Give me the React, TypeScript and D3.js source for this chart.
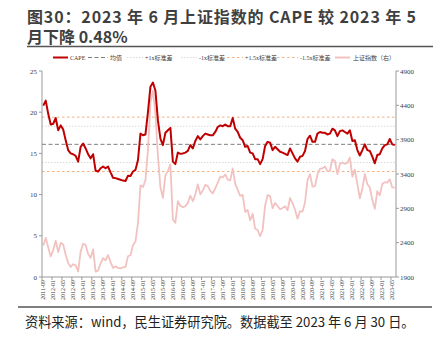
import React from "react";
import * as d3 from "d3";

const startMonth = new Date(2011, 8, 1);
const months: string[] = d3.timeMonths(startMonth, new Date(2023, 6, 1)).map(d3.timeFormat("%Y-%m"));

const capeValues: number[] = [
  20.8, 21.4, 19.8, 18.5, 18.6, 19.3, 17.8, 18.4, 17.9, 16.6,
  15.4, 15.0, 14.9, 14.7, 14.0, 15.8, 16.2, 15.6, 14.9, 14.4,
  14.9, 12.9, 12.8, 13.2, 13.4, 13.2, 13.4, 12.7, 12.05, 12.0,
  11.9, 11.8, 11.7, 11.65, 12.3, 12.25, 12.8, 13.0, 14.2, 17.4,
  17.2, 17.3, 20.0, 23.1, 23.6, 22.6, 19.0, 16.8, 16.0, 17.5,
  17.8, 18.1, 14.0, 13.7, 15.1, 14.95, 15.0, 15.1, 15.3, 16.0,
  15.6, 16.5, 17.1, 16.7, 17.1, 17.4, 17.3, 17.2, 17.2, 17.6,
  18.2, 18.4, 18.3, 18.5, 18.3, 18.3, 19.3, 18.0, 17.6, 16.9,
  16.6, 15.8, 15.9, 15.1, 15.0, 14.3, 14.3, 13.7, 14.3, 15.9,
  16.4, 16.3, 15.4, 15.8, 15.5, 15.2, 15.1, 14.95, 14.8, 15.6,
  15.0, 14.4, 14.0, 14.6, 14.7, 15.3, 16.75, 17.15, 16.4, 16.4,
  17.4, 17.6, 17.5, 17.5, 17.3, 17.4, 18.0, 17.8, 17.1, 17.7,
  17.8, 17.6, 17.4, 17.8, 16.5, 16.6, 15.4, 14.75, 15.4, 16.1,
  15.4, 15.3, 14.6, 13.8, 14.8, 14.9, 15.6, 16.0, 16.1, 16.75,
  16.1, 16.0,
];

const sseValues: number[] = [
  2359, 2468, 2333, 2199, 2292, 2428, 2263, 2397, 2373, 2225,
  2103, 2047, 2086, 2069, 1980, 2269, 2385, 2366, 2237, 2178,
  2301, 1979, 1994, 2098, 2175, 2142, 2220, 2116, 2033, 2056,
  2033, 2026, 2039, 2048, 2202, 2217, 2364, 2420, 2683, 3235,
  3210, 3310, 3748, 4442, 4612, 4277, 3664, 3206, 3053, 3383,
  3446, 3539, 2738, 2688, 3004, 2938, 2917, 2930, 2979, 3085,
  3005, 3100, 3250, 3104, 3159, 3242, 3223, 3155, 3117, 3192,
  3273, 3361, 3349, 3393, 3317, 3307, 3481, 3259, 3169, 3082,
  3095, 2847, 2876, 2725, 2821, 2603, 2588, 2494, 2585, 2941,
  3091, 3078, 2899, 2979, 2933, 2886, 2905, 2929, 2872, 3050,
  2977, 2880, 2750, 2860, 2852, 2985, 3310, 3396, 3218, 3225,
  3392, 3473, 3483, 3509, 3442, 3447, 3615, 3591, 3397, 3544,
  3568, 3547, 3564, 3640, 3361, 3462, 3253, 3047, 3186, 3399,
  3253, 3202, 3024, 2893, 3151, 3089, 3256, 3280, 3273, 3323,
  3205, 3202,
];

const bandLevels: number[] = [16.1, 18.3, 13.9, 19.4, 12.8];
const leftTicks: number[] = [0, 5, 10, 15, 20, 25];
const rightTicks: number[] = [1900, 2400, 2900, 3400, 3900, 4400, 4900];
const legendLabels: string[] = ["CAPE", "均值", "+1x标准差", "-1x标准差", "+1.5x标准差", "-1.5x标准差", "上证指数（右）"];

const titleLine1 = "图30：2023 年 6 月上证指数的 CAPE 较 2023 年 5";
const titleLine2 = "月下降 0.48%";
const footerText = "资料来源：wind，民生证券研究院。数据截至 2023 年 6 月 30 日。";

const RED = "#c00000";
const PINK = "#f2c2c0";
const serif = "'Liberation Serif', 'Times New Roman', serif";
const cjk = "'Noto Sans CJK SC', sans-serif";

const styles = [
  { stroke: RED, width: 2, dash: "" },
  { stroke: "#7f7f7f", width: 1, dash: "4,2.5" },
  { stroke: "#d9d9d9", width: 1, dash: "1.5,1.5" },
  { stroke: "#d9d9d9", width: 1, dash: "1.5,1.5" },
  { stroke: "#f4b183", width: 1, dash: "2.5,2.5" },
  { stroke: "#f4b183", width: 1, dash: "2.5,2.5" },
  { stroke: PINK, width: 2, dash: "" },
];
const legendPos = [
  [53, 68, 70],
  [88, 108, 110],
  [127, 143, 145],
  [181, 197, 199],
  [222, 243, 245],
  [277, 298, 300],
  [335, 350, 353],
];

export default function App() {
  const left = 42, right = 396, top = 71, bottom = 277;
  const x = d3.scaleBand<string>().domain(months).range([left, right]);
  const bw = x.bandwidth();
  const cx = (m: string) => (x(m) as number) + bw / 2;
  const yL = d3.scaleLinear().domain([0, 25]).range([bottom, top]);
  const yR = d3.scaleLinear().domain([1900, 4900]).range([bottom, top]);

  const capeLine = d3.line<number>().x((_, i) => cx(months[i])).y((d) => yL(d));
  const sseLine = d3.line<number>().x((_, i) => cx(months[i])).y((d) => yR(d));

  const labelIdx = months.map((_, i) => i).filter((i) => i % 4 === 0);

  return (
    <svg width={438} height={345} style={{ position: "absolute", left: 0, top: 0, background: "#fff" }}>
      <rect width={438} height={345} fill="#fff" />
      <text fontFamily={cjk} fontWeight="bold" fontSize={16} fill="#3f3f3f">
        <tspan x={27} y={23} textLength={389} lengthAdjust="spacing">{titleLine1}</tspan>
        <tspan x={27} y={42.5}>{titleLine2}</tspan>
      </text>
      <line x1={27} x2={433} y1={46.5} y2={46.5} stroke="#555" strokeWidth={1.5} />

      {legendLabels.map((lab, i) => (
        <g key={lab}>
          <line x1={legendPos[i][0]} x2={legendPos[i][1]} y1={57.5} y2={57.5} stroke={styles[i].stroke} strokeWidth={styles[i].width} strokeDasharray={styles[i].dash} />
          <text x={legendPos[i][2]} y={59.5} fontFamily={`${serif}, ${cjk}`} fontSize={6} fill="#404040">{lab}</text>
        </g>
      ))}

      {bandLevels.map((v, i) => (
        <line key={i} x1={left} x2={right} y1={yL(v)} y2={yL(v)} stroke={styles[i + 1].stroke} strokeWidth={1} strokeDasharray={styles[i + 1].dash} />
      ))}

      <path d={sseLine(sseValues) as string} fill="none" stroke={PINK} strokeWidth={1.8} strokeLinejoin="round" />
      <path d={capeLine(capeValues) as string} fill="none" stroke={RED} strokeWidth={2} strokeLinejoin="round" />

      <line x1={left} x2={left} y1={top} y2={bottom} stroke="#999" />
      <line x1={right} x2={right} y1={top} y2={bottom} stroke="#999" />
      <line x1={left} x2={right} y1={bottom} y2={bottom} stroke="#999" />
      {leftTicks.map((t) => (
        <g key={t}>
          <line x1={left - 3} x2={left} y1={yL(t)} y2={yL(t)} stroke="#999" />
          <text x={37} y={yL(t) + 2.5} textAnchor="end" fontFamily={serif} fontSize={7} fill="#404040">{t}</text>
        </g>
      ))}
      {rightTicks.map((t) => (
        <g key={t}>
          <line x1={right} x2={right + 3} y1={yR(t)} y2={yR(t)} stroke="#999" />
          <text x={400} y={yR(t) + 2.5} fontFamily={serif} fontSize={7} fill="#404040">{t}</text>
        </g>
      ))}
      {labelIdx.map((i) => (
        <g key={i}>
          <line x1={x(months[i]) as number} x2={x(months[i]) as number} y1={bottom} y2={bottom + 3} stroke="#999" />
          <text transform={`translate(${cx(months[i]) + 2},${280}) rotate(-90)`} textAnchor="end" fontFamily={serif} fontSize={6} fill="#404040">{months[i]}</text>
        </g>
      ))}

      <line x1={18} x2={432} y1={307} y2={307} stroke="#555" strokeWidth={1.5} />
      <text x={25} y={327} fontFamily={cjk} fontSize={13.2} fill="#222">{footerText}</text>
    </svg>
  );
}
